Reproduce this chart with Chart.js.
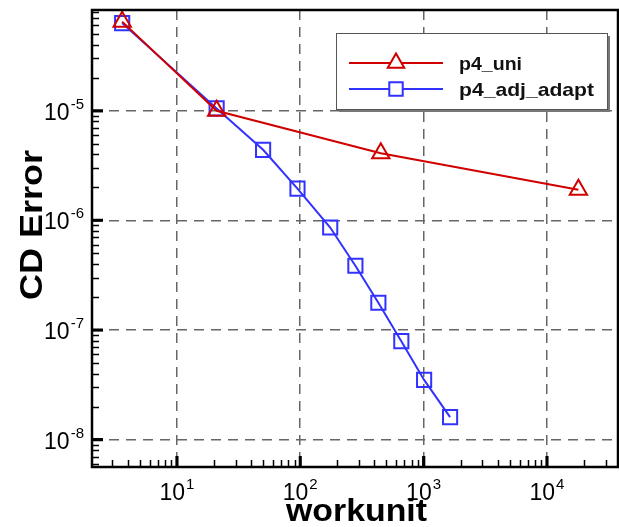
<!DOCTYPE html>
<html lang="en">
<head>
  <meta charset="UTF-8">
  <title>CD Error vs workunit</title>
  <script src="https://cdn.jsdelivr.net/npm/chart.js"></script>
  <style>
    body { margin: 0; background: #fff; }
    #wrap { width: 619px; height: 527px; }
  </style>
</head>
<body>
  <div id="wrap"><canvas id="errChart" width="619" height="527"></canvas></div>

  <script>
    // Data (log-log)
    const uniX = [3.6, 21, 450, 18000];
    const uniY = [6.5e-5, 1.0e-5, 4.1e-6, 1.9e-6];
    const adaptX = [3.6, 21, 50, 95, 175, 280, 430, 660, 1010, 1640];
    const adaptY = [6.3e-5, 1.05e-5, 4.4e-6, 1.95e-6, 8.6e-7, 3.85e-7, 1.77e-7, 7.9e-8, 3.5e-8, 1.6e-8];
    const seriesNames = ["p4_uni", "p4_adj_adapt"];
    const xDecades = [1, 2, 3, 4];       // exponents for 10^n
    const yDecades = [-5, -6, -7, -8];
    const xTitle = "workunit";
    const yTitle = "CD Error";

    const RED = "#d00000";
    const BLUE = "#3232ff";

    const pts = (xs, ys) => xs.map((x, i) => ({ x: x, y: ys[i] }));

    // draws 10^n with a superscript
    function powLabel(ctx, n, x, y, align) {
      ctx.font = "23px 'Liberation Sans', Arial, sans-serif";
      const base = ctx.measureText("10").width;
      ctx.font = "15px 'Liberation Sans', Arial, sans-serif";
      const sup = ctx.measureText(String(n)).width;
      const total = base + sup + 1;
      let x0 = align === "right" ? x - total : x - total / 2;
      ctx.fillStyle = "#000";
      ctx.textAlign = "left";
      ctx.textBaseline = "alphabetic";
      ctx.font = "23px 'Liberation Sans', Arial, sans-serif";
      ctx.fillText("10", x0, y);
      ctx.font = "15px 'Liberation Sans', Arial, sans-serif";
      ctx.fillText(String(n), x0 + base + 1, y - 11);
    }

    function fitText(ctx, text, x, y, width) {
      const w = ctx.measureText(text).width;
      ctx.save();
      ctx.translate(x, y);
      ctx.scale(width / w, 1);
      ctx.fillText(text, 0, 0);
      ctx.restore();
    }

    const decorPlugin = {
      id: "decor",
      afterDraw(chart) {
        const ctx = chart.ctx;
        const a = chart.chartArea;
        const xs = chart.scales.x, ys = chart.scales.y;
        ctx.save();

        // frame
        ctx.strokeStyle = "#000";
        ctx.lineWidth = 2.5;
        ctx.strokeRect(a.left, a.top, a.right - a.left, a.bottom - a.top);

        // inward ticks, left and bottom
        ctx.lineWidth = 1.5;
        ctx.beginPath();
        for (let e = -9; e <= -4; e++) {
          for (let m = 1; m <= 9; m++) {
            const v = m * Math.pow(10, e);
            if (v < ys.min || v > ys.max) continue;
            const py = Math.round(ys.getPixelForValue(v)) + 0.5;
            const len = m === 1 ? 11 : 7;
            ctx.moveTo(a.left, py);
            ctx.lineTo(a.left + len, py);
          }
        }
        for (let e = 0; e <= 4; e++) {
          for (let m = 1; m <= 9; m++) {
            const v = m * Math.pow(10, e);
            if (v < xs.min || v > xs.max) continue;
            const px = Math.round(xs.getPixelForValue(v)) + 0.5;
            const len = m === 1 ? 11 : 7;
            ctx.moveTo(px, a.bottom);
            ctx.lineTo(px, a.bottom - len);
          }
        }
        ctx.stroke();
        ctx.lineWidth = 3;
        ctx.beginPath();
        yDecades.forEach(n => {
          const py = ys.getPixelForValue(Math.pow(10, n));
          ctx.moveTo(a.left, py);
          ctx.lineTo(a.left + 11, py);
        });
        xDecades.forEach(n => {
          const px = xs.getPixelForValue(Math.pow(10, n));
          ctx.moveTo(px, a.bottom);
          ctx.lineTo(px, a.bottom - 11);
        });
        ctx.stroke();

        // tick labels
        yDecades.forEach(n => {
          powLabel(ctx, n, a.left - 8, ys.getPixelForValue(Math.pow(10, n)) + 9, "right");
        });
        xDecades.forEach(n => {
          powLabel(ctx, n, xs.getPixelForValue(Math.pow(10, n)), a.bottom + 33, "center");
        });

        // axis titles
        ctx.fillStyle = "#000";
        ctx.textAlign = "left";
        ctx.font = "bold 32px 'Liberation Sans', Arial, sans-serif";
        fitText(ctx, xTitle, 286, 521, 141);
        ctx.save();
        ctx.translate(42, 300);
        ctx.rotate(-Math.PI / 2);
        fitText(ctx, yTitle, 0, 0, 150);
        ctx.restore();

        // legend box
        const lx = 336, ly = 33, lw = 271, lh = 76;
        ctx.fillStyle = "#777";
        ctx.fillRect(lx + 3, ly + 3, lw, lh);
        ctx.fillStyle = "#fff";
        ctx.fillRect(lx, ly, lw, lh);
        ctx.strokeStyle = "#555";
        ctx.lineWidth = 1;
        ctx.strokeRect(lx + 0.5, ly + 0.5, lw, lh);

        const entries = [
          { color: RED, style: "triangle", y: 63 },
          { color: BLUE, style: "rect", y: 89 }
        ];
        entries.forEach((en, i) => {
          ctx.strokeStyle = en.color;
          ctx.lineWidth = 2;
          ctx.beginPath();
          ctx.moveTo(349, en.y);
          ctx.lineTo(443, en.y);
          ctx.stroke();
          ctx.fillStyle = "#fff";
          Chart.helpers.drawPoint(ctx, {
            pointStyle: en.style, radius: 9.5,
            borderWidth: 2, rotation: 0
          }, 396, en.y);
          ctx.fillStyle = "#111";
          ctx.font = "bold 19px 'Liberation Sans', Arial, sans-serif";
          const w = i === 0 ? 63 : 135;
          fitText(ctx, seriesNames[i], 459, en.y + 7, w);
        });

        ctx.restore();
      }
    };

    const decadeTicks = (exps) => function (scale) {
      scale.ticks = exps.map(n => ({ value: Math.pow(10, n) }));
    };

    new Chart(document.getElementById("errChart"), {
      type: "line",
      data: {
        datasets: [
          {
            label: seriesNames[0],
            data: pts(uniX, uniY),
            borderColor: RED,
            backgroundColor: "rgba(0,0,0,0)",
            borderWidth: 2,
            pointStyle: "triangle",
            pointRadius: 10,
            pointBorderWidth: 2,
            tension: 0
          },
          {
            label: seriesNames[1],
            data: pts(adaptX, adaptY),
            borderColor: BLUE,
            backgroundColor: "rgba(0,0,0,0)",
            borderWidth: 2,
            pointStyle: "rect",
            pointRadius: 10,
            pointBorderWidth: 2,
            tension: 0
          }
        ]
      },
      options: {
        responsive: false,
        animation: false,
        layout: { autoPadding: false, padding: { top: 10, right: 1, left: 0, bottom: 0 } },
        plugins: { legend: { display: false }, tooltip: { enabled: false } },
        scales: {
          x: {
            type: "logarithmic",
            min: 2.05,
            max: 37700,
            afterBuildTicks: decadeTicks(xDecades),
            afterFit: s => { s.height = 60; },
            ticks: { display: false },
            grid: { color: "#666", lineWidth: 1.5, drawTicks: false },
            border: { display: false, dash: [10, 7] }
          },
          y: {
            type: "logarithmic",
            min: 5.62e-9,
            max: 8.3e-5,
            afterBuildTicks: decadeTicks(yDecades),
            afterFit: s => { s.width = 92; },
            ticks: { display: false },
            grid: { color: "#666", lineWidth: 1.5, drawTicks: false },
            border: { display: false, dash: [10, 7] }
          }
        }
      },
      plugins: [decorPlugin]
    });
  </script>
</body>
</html>
